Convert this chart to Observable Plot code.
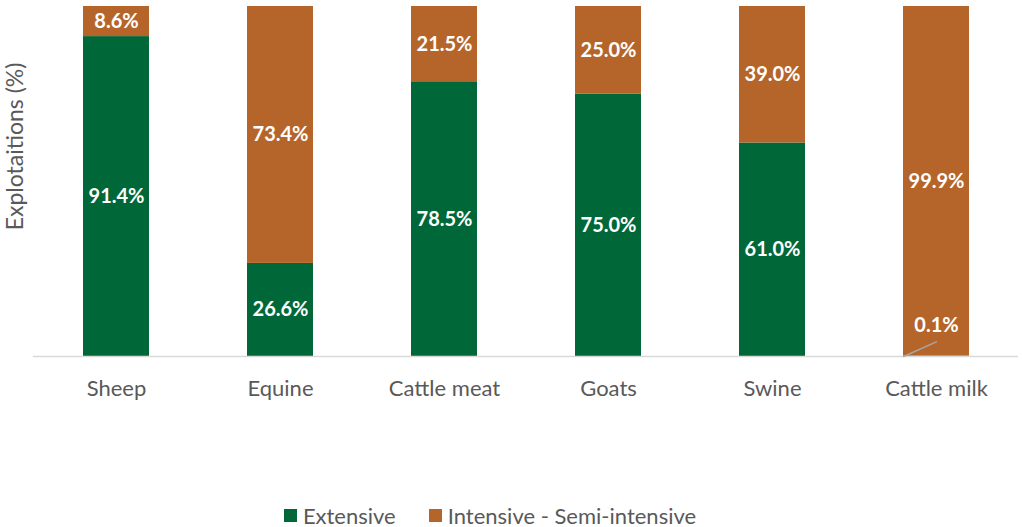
<!DOCTYPE html>
<html>
<head>
<meta charset="utf-8">
<script src="https://cdn.jsdelivr.net/npm/d3@7"></script>
<script src="https://cdn.jsdelivr.net/npm/@observablehq/plot@0.6"></script>
<style>
  html, body { margin: 0; padding: 0; background: #fff; }
  body { width: 1022px; height: 527px; overflow: hidden; font-family: Lato, "Open Sans", sans-serif; }
  #legend { position: absolute; left: 0; top: 502px; width: 1022px; display: flex; justify-content: center; align-items: center; gap: 33px; height: 27px; font-size: 22px; color: #595959; margin-left: -21px; }
  .item { display: flex; align-items: center; gap: 6px; }
  .sw { width: 13px; height: 13px; display: inline-block; }
</style>
</head>
<body>
<div id="chart"></div>
<div id="legend"></div>
<script>
const categories = ["Sheep", "Equine", "Cattle meat", "Goats", "Swine", "Cattle milk"];
const series = ["Extensive", "Intensive - Semi-intensive"];
const extensive = [91.4, 26.6, 78.5, 75.0, 61.0, 0.1];
const intensive = [8.6, 73.4, 21.5, 25.0, 39.0, 99.9];
const colors = ["#006838", "#B6652A"];
const yLabel = "Explotaitions (%)";

const rows = [];
categories.forEach((c, i) => {
  const e = extensive[i], n = intensive[i];
  rows.push({cat: c, series: series[0], v: e, y1: 0, y2: e});
  rows.push({cat: c, series: series[1], v: n, y1: e, y2: e + n});
});
const big = rows.filter(d => d.v >= 1);
const small = rows.filter(d => d.v < 1);

const chart = Plot.plot({
  width: 1022,
  height: 500,
  marginLeft: 33,
  marginRight: 4,
  marginTop: 6,
  marginBottom: 144,
  style: {fontFamily: "Lato, 'Open Sans', sans-serif", background: "#fff"},
  x: {domain: categories, paddingInner: 0.6, paddingOuter: 0.3, label: null},
  y: {domain: [0, 100], axis: null},
  color: {domain: series, range: colors},
  marks: [
    Plot.barY(rows, {x: "cat", y1: "y1", y2: "y2", fill: "series"}),
    Plot.ruleY([0], {stroke: "#d9d9d9", strokeWidth: 1.5}),
    Plot.text(big, {x: "cat", y: d => (d.y1 + d.y2) / 2, text: d => d.v.toFixed(1) + "%", fill: "white", fontWeight: "bold", fontSize: 20}),
    Plot.vector(small, {x: "cat", y: "y1", length: 36, rotate: 66, anchor: "start", dx: -33,
      stroke: "#a6a6a6", strokeWidth: 1.5,
      shape: {draw(ctx, l) { ctx.moveTo(0, 0); ctx.lineTo(0, -l); }}}),
    Plot.text(small, {x: "cat", y: "y2", text: d => d.v.toFixed(1) + "%", fill: "white", fontWeight: "bold", fontSize: 20, dy: -31}),
    Plot.text([{t: yLabel, y: 60}], {y: "y", text: "t", frameAnchor: "left", textAnchor: "middle", rotate: -90, dx: -18, fontSize: 23, fill: "#595959"}),
    Plot.axisX({tickSize: 0, tickPadding: 24, fontSize: 22, fill: "#595959", label: null})
  ]
});
document.getElementById("chart").appendChild(chart);

const legend = document.getElementById("legend");
series.forEach((s, i) => {
  const item = document.createElement("div");
  item.className = "item";
  const sw = document.createElement("span");
  sw.className = "sw";
  sw.style.background = colors[i];
  const t = document.createElement("span");
  t.textContent = s;
  item.appendChild(sw);
  item.appendChild(t);
  legend.appendChild(item);
});
</script>
</body>
</html>
